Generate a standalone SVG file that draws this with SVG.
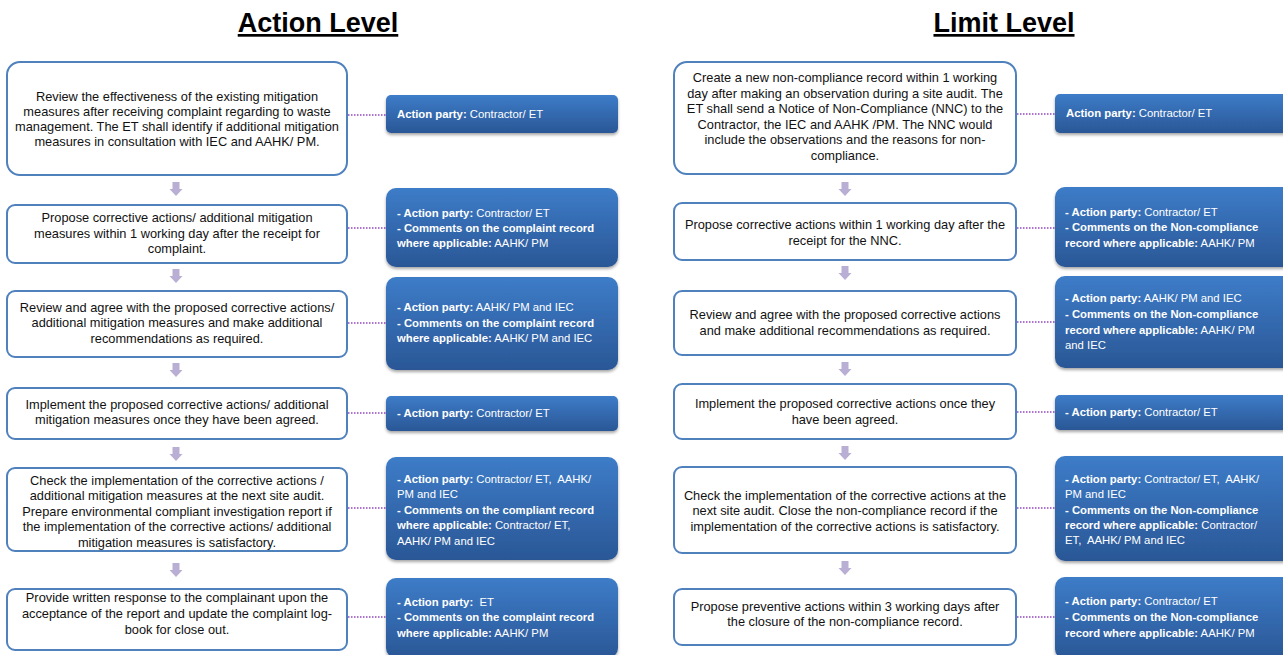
<svg xmlns="http://www.w3.org/2000/svg" width="1283" height="655" viewBox="0 0 1283 655">
<defs>
<linearGradient id="bg" x1="0" y1="0" x2="0" y2="1">
<stop offset="0" stop-color="#3d7cc8"/>
<stop offset="1" stop-color="#2a5796"/>
</linearGradient>
<filter id="sh" x="-10%" y="-10%" width="120%" height="130%">
<feDropShadow dx="0" dy="2" stdDeviation="1.5" flood-color="#000" flood-opacity="0.35"/>
</filter>
<path id="arr" d="M-3.5,0 H3.5 V7 H6.5 L0,14 L-6.5,7 H-3.5 Z"/>
</defs>
<style>
.title{font-family:"Liberation Sans",Arial,sans-serif;font-weight:bold;font-size:27px;text-anchor:middle;text-decoration:underline;fill:#000}
.wb{fill:#fff;stroke:#4f81bd;stroke-width:2}
.bb{fill:url(#bg);filter:url(#sh)}
.wt{font-family:"Liberation Sans",Arial,sans-serif;font-size:12.8px;text-anchor:middle;fill:#111}
.bt{font-family:"Liberation Sans",Arial,sans-serif;font-size:11.3px;fill:#fff;white-space:pre}
.b{font-weight:bold}
.con{stroke:#9345c0;stroke-width:1.5;stroke-dasharray:1.5 1.5;fill:none}
.ar{fill:#b9aed3}
</style>
<text class="title" x="318" y="32">Action Level</text>
<text class="title" x="1004" y="32">Limit Level</text>

<g id="connectors">
<line class="con" x1="348" y1="115" x2="386" y2="115"/>
<line class="con" x1="348" y1="228" x2="386" y2="228"/>
<line class="con" x1="348" y1="323" x2="386" y2="323"/>
<line class="con" x1="348" y1="413" x2="386" y2="413"/>
<line class="con" x1="348" y1="508" x2="386" y2="508"/>
<line class="con" x1="348" y1="617" x2="386" y2="617"/>
<line class="con" x1="1017" y1="114" x2="1055" y2="114"/>
<line class="con" x1="1017" y1="228" x2="1055" y2="228"/>
<line class="con" x1="1017" y1="322" x2="1055" y2="322"/>
<line class="con" x1="1017" y1="412" x2="1055" y2="412"/>
<line class="con" x1="1017" y1="508" x2="1055" y2="508"/>
<line class="con" x1="1017" y1="617" x2="1055" y2="617"/>
<use class="ar" href="#arr" x="176" y="182"/>
<use class="ar" href="#arr" x="176" y="269"/>
<use class="ar" href="#arr" x="176" y="363"/>
<use class="ar" href="#arr" x="176" y="447"/>
<use class="ar" href="#arr" x="176" y="563"/>
<use class="ar" href="#arr" x="845" y="182"/>
<use class="ar" href="#arr" x="845" y="266"/>
<use class="ar" href="#arr" x="845" y="362"/>
<use class="ar" href="#arr" x="845" y="446"/>
<use class="ar" href="#arr" x="845" y="561"/>
</g>

<!-- Left column -->
<g id="a1">
<rect class="wb" x="7" y="62" width="340" height="113" rx="13"/>
<text class="wt" x="177" y="101">Review the effectiveness of the existing mitigation</text>
<text class="wt" x="177" y="116">measures after receiving complaint regarding to waste</text>
<text class="wt" x="177" y="131">management. The ET shall identify if additional mitigation</text>
<text class="wt" x="177" y="146">measures in consultation with IEC and AAHK/ PM.</text>
</g>
<g id="a1p">
<rect class="bb" x="386" y="95" width="232" height="38" rx="5"/>
<text class="bt" x="397" y="118"><tspan class="b">Action party:</tspan> Contractor/ ET</text>
</g>

<g id="a2">
<rect class="wb" x="7" y="205" width="340" height="58" rx="8"/>
<text class="wt" x="177" y="222">Propose corrective actions/ additional mitigation</text>
<text class="wt" x="177" y="238">measures within 1 working day after the receipt for</text>
<text class="wt" x="177" y="253">complaint.</text>
</g>
<g id="a2p">
<rect class="bb" x="386" y="188" width="232" height="79" rx="10"/>
<text class="bt" x="397" y="217"><tspan class="b">- Action party:</tspan> Contractor/ ET</text>
<text class="bt" x="397" y="232"><tspan class="b">- Comments on the complaint record</tspan></text>
<text class="bt" x="397" y="247"><tspan class="b">where applicable:</tspan> AAHK/ PM</text>
</g>

<g id="a3">
<rect class="wb" x="7" y="291" width="340" height="66" rx="8"/>
<text class="wt" x="177" y="312">Review and agree with the proposed corrective actions/</text>
<text class="wt" x="177" y="327">additional mitigation measures and make additional</text>
<text class="wt" x="177" y="343">recommendations as required.</text>
</g>
<g id="a3p">
<rect class="bb" x="386" y="277" width="232" height="93" rx="10"/>
<text class="bt" x="397" y="311"><tspan class="b">- Action party:</tspan> AAHK/ PM and IEC</text>
<text class="bt" x="397" y="327"><tspan class="b">- Comments on the complaint record</tspan></text>
<text class="bt" x="397" y="342"><tspan class="b">where applicable:</tspan> AAHK/ PM and IEC</text>
</g>

<g id="a4">
<rect class="wb" x="7" y="388" width="340" height="51" rx="8"/>
<text class="wt" x="177" y="409">Implement the proposed corrective actions/ additional</text>
<text class="wt" x="177" y="424">mitigation measures once they have been agreed.</text>
</g>
<g id="a4p">
<rect class="bb" x="386" y="396" width="232" height="35" rx="5"/>
<text class="bt" x="397" y="417"><tspan class="b">- Action party:</tspan> Contractor/ ET</text>
</g>

<g id="a5">
<rect class="wb" x="7" y="468" width="340" height="83" rx="8"/>
<text class="wt" x="177" y="485">Check the implementation of the corrective actions /</text>
<text class="wt" x="177" y="500">additional mitigation measures at the next site audit.</text>
<text class="wt" x="177" y="516">Prepare environmental compliant investigation report if</text>
<text class="wt" x="177" y="531">the implementation of the corrective actions/ additional</text>
<text class="wt" x="177" y="547">mitigation measures is satisfactory.</text>
</g>
<g id="a5p">
<rect class="bb" x="386" y="457" width="232" height="103" rx="10"/>
<text class="bt" x="397" y="483"><tspan class="b">- Action party:</tspan> Contractor/ ET,  AAHK/</text>
<text class="bt" x="397" y="498">PM and IEC</text>
<text class="bt" x="397" y="514"><tspan class="b">- Comments on the compliant record</tspan></text>
<text class="bt" x="397" y="529"><tspan class="b">where applicable:</tspan> Contractor/ ET,</text>
<text class="bt" x="397" y="545">AAHK/ PM and IEC</text>
</g>

<g id="a6">
<rect class="wb" x="7" y="589" width="340" height="61" rx="8"/>
<text class="wt" x="177" y="602">Provide written response to the complainant upon the</text>
<text class="wt" x="177" y="618">acceptance of the report and update the complaint log-</text>
<text class="wt" x="177" y="634">book for close out.</text>
</g>
<g id="a6p">
<rect class="bb" x="386" y="578" width="232" height="80" rx="10"/>
<text class="bt" x="397" y="606"><tspan class="b">- Action party:</tspan>  ET</text>
<text class="bt" x="397" y="621"><tspan class="b">- Comments on the complaint record</tspan></text>
<text class="bt" x="397" y="637"><tspan class="b">where applicable:</tspan> AAHK/ PM</text>
</g>

<!-- Right column -->
<g id="l1">
<rect class="wb" x="674" y="62" width="342" height="112" rx="13"/>
<text class="wt" x="845" y="82">Create a new non-compliance record within 1 working</text>
<text class="wt" x="845" y="98">day after making an observation during a site audit. The</text>
<text class="wt" x="845" y="113">ET shall send a Notice of Non-Compliance (NNC) to the</text>
<text class="wt" x="845" y="129">Contractor, the IEC and AAHK /PM. The NNC would</text>
<text class="wt" x="845" y="144">include the observations and the reasons for non-</text>
<text class="wt" x="845" y="160">compliance.</text>
</g>
<g id="l1p">
<rect class="bb" x="1055" y="94" width="240" height="39" rx="5"/>
<text class="bt" x="1066" y="117"><tspan class="b">Action party:</tspan> Contractor/ ET</text>
</g>

<g id="l2">
<rect class="wb" x="674" y="203" width="342" height="57" rx="8"/>
<text class="wt" x="845" y="229">Propose corrective actions within 1 working day after the</text>
<text class="wt" x="845" y="245">receipt for the NNC.</text>
</g>
<g id="l2p">
<rect class="bb" x="1055" y="187" width="240" height="80" rx="10"/>
<text class="bt" x="1065" y="216"><tspan class="b">- Action party:</tspan> Contractor/ ET</text>
<text class="bt" x="1065" y="231"><tspan class="b">- Comments on the Non-compliance</tspan></text>
<text class="bt" x="1065" y="247"><tspan class="b">record where applicable:</tspan> AAHK/ PM</text>
</g>

<g id="l3">
<rect class="wb" x="674" y="291" width="342" height="64" rx="8"/>
<text class="wt" x="845" y="319">Review and agree with the proposed corrective actions</text>
<text class="wt" x="845" y="335">and make additional recommendations as required.</text>
</g>
<g id="l3p">
<rect class="bb" x="1055" y="276" width="240" height="92" rx="10"/>
<text class="bt" x="1065" y="302"><tspan class="b">- Action party:</tspan> AAHK/ PM and IEC</text>
<text class="bt" x="1065" y="318"><tspan class="b">- Comments on the Non-compliance</tspan></text>
<text class="bt" x="1065" y="334"><tspan class="b">record where applicable:</tspan> AAHK/ PM</text>
<text class="bt" x="1065" y="349">and IEC</text>
</g>

<g id="l4">
<rect class="wb" x="674" y="384" width="342" height="55" rx="8"/>
<text class="wt" x="845" y="408">Implement the proposed corrective actions once they</text>
<text class="wt" x="845" y="424">have been agreed.</text>
</g>
<g id="l4p">
<rect class="bb" x="1055" y="395" width="240" height="35" rx="5"/>
<text class="bt" x="1065" y="416"><tspan class="b">- Action party:</tspan> Contractor/ ET</text>
</g>

<g id="l5">
<rect class="wb" x="674" y="467" width="342" height="86" rx="8"/>
<text class="wt" x="845" y="500">Check the implementation of the corrective actions at the</text>
<text class="wt" x="845" y="515">next site audit. Close the non-compliance record if the</text>
<text class="wt" x="845" y="531">implementation of the corrective actions is satisfactory.</text>
</g>
<g id="l5p">
<rect class="bb" x="1055" y="456" width="240" height="105" rx="10"/>
<text class="bt" x="1065" y="483"><tspan class="b">- Action party:</tspan> Contractor/ ET,  AAHK/</text>
<text class="bt" x="1065" y="498">PM and IEC</text>
<text class="bt" x="1065" y="514"><tspan class="b">- Comments on the Non-compliance</tspan></text>
<text class="bt" x="1065" y="529"><tspan class="b">record where applicable:</tspan> Contractor/</text>
<text class="bt" x="1065" y="544">ET,  AAHK/ PM and IEC</text>
</g>

<g id="l6">
<rect class="wb" x="674" y="589" width="342" height="56" rx="8"/>
<text class="wt" x="845" y="611">Propose preventive actions within 3 working days after</text>
<text class="wt" x="845" y="626">the closure of the non-compliance record.</text>
</g>
<g id="l6p">
<rect class="bb" x="1055" y="577" width="240" height="82" rx="10"/>
<text class="bt" x="1065" y="605"><tspan class="b">- Action party:</tspan> Contractor/ ET</text>
<text class="bt" x="1065" y="621"><tspan class="b">- Comments on the Non-compliance</tspan></text>
<text class="bt" x="1065" y="637"><tspan class="b">record where applicable:</tspan> AAHK/ PM</text>
</g>
</svg>
